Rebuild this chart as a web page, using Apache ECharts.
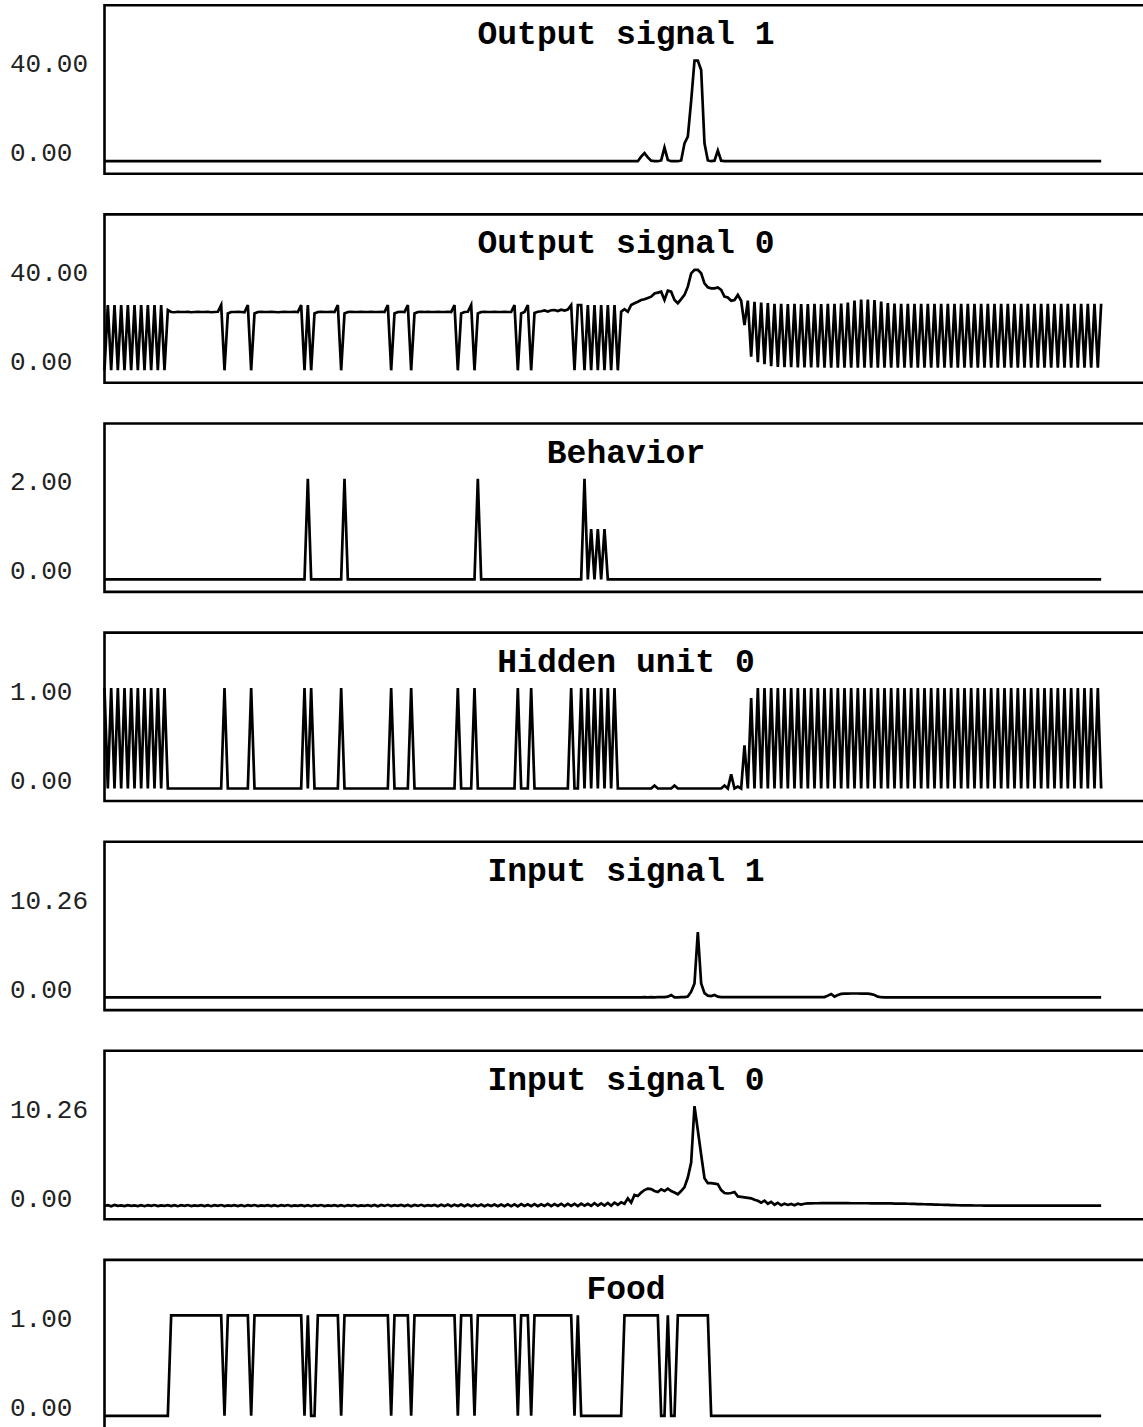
<!DOCTYPE html>
<html>
<head>
<meta charset="utf-8">
<script src="https://cdn.jsdelivr.net/npm/echarts/dist/echarts.min.js"></script>
<style>
html,body{margin:0;padding:0;background:#fff;}
#chart{width:1143px;height:1427px;}
</style>
</head>
<body>
<div id="chart"></div>
<script>
// ---------- DATA ----------
const panelTitles = ['Output signal 1', 'Output signal 0', 'Behavior', 'Hidden unit 0', 'Input signal 1', 'Input signal 0', 'Food'];
const tickLabelValues = [40, 40, 2, 1, 10.26, 10.26, 1];

const outputSignal1 = [
0,0,0,0,0,0,0,0,0,0, 0,0,0,0,0,0,0,0,0,0, 0,0,0,0,0,0,0,0,0,0, 0,0,0,0,0,0,0,0,0,0,
0,0,0,0,0,0,0,0,0,0, 0,0,0,0,0,0,0,0,0,0, 0,0,0,0,0,0,0,0,0,0, 0,0,0,0,0,0,0,0,0,0,
0,0,0,0,0,0,0,0,0,0, 0,0,0,0,0,0,0,0,0,0, 0,0,0,0,0,0,0,0,0,0, 0,0,0,0,0,0,0,0,0,0,
0,0,0,0,0,0,0,0,0,0, 0,0,0,0,0,0,0,0,0,0, 0,0,0,0,0,0,0,0,0,0, 0,0,0,0,0,0,0,0,0,0,
0,1.8,3.2,1.5,0.2,0,0,0.3,5.4,0.5,
0,0,0,0.3,7.1,9.8,24,40,40,36.3,
7.1,0.3,0,0.2,4.2,0.2,0,0,0,0,
0,0,0,0,0,0,0,0,0,0, 0,0,0,0,0,0,0,0,0,0, 0,0,0,0,0,0,0,0,0,0, 0,0,0,0,0,0,0,0,0,0,
0,0,0,0,0,0,0,0,0,0, 0,0,0,0,0,0,0,0,0,0, 0,0,0,0,0,0,0,0,0,0, 0,0,0,0,0,0,0,0,0,0,
0,0,0,0,0,0,0,0,0,0, 0,0,0,0,0,0,0,0,0,0, 0,0,0,0,0,0,0,0,0,0
];

const outputSignal0 = [
0,26,0,26,0,26,0,26,0,26,
0,26,0,26,0,26,0,26,0,24,
23.2,23.1,23.3,23.2,23.2,23.3,23.1,23.2,23.3,23.2,
23.2,23.3,23.1,23.2,23.3,26,0,22.6,23.2,23.2,
23.3,23.2,23.1,26,0,22.6,23.2,23.3,23.2,23.2,
23.3,23.2,23.1,23.2,23.3,23.2,23.2,23.3,23.2,26,
0,26,0,22.6,23.2,23.3,23.2,23.2,23.3,23.2,
26,0,22.6,23.2,23.3,23.2,23.2,23.3,23.2,23.2,
23.3,23.2,23.2,23.3,23.2,26,0,22.6,23.2,23.3,
23.2,26,0,22.6,23.2,23.3,23.2,23.3,23.2,23.2,
23.3,23.2,23.2,23.3,23.2,26,0,22.6,23.2,23.3,
26,0,22.6,23.2,23.3,23.2,23.2,23.3,23.2,23.2,
23.3,23.2,23.2,26,0,22.6,23.2,26,0,22.8,
23.3,23.5,23.8,23.4,23.9,24,23.6,24.1,23.8,24.2,
26,0,26,26,0,26,0,26,0,26,
0,26,0,26,0,23.3,24.3,23.3,26,26.7,
27.3,28,28.3,28.8,29.3,30.6,30.9,31.3,28,31.7,
31.3,28,26.7,28.3,30,33.3,38.6,40,40,38.6,
34.6,33,32.6,32.6,33,32,29.3,29,27.7,28,
30,27.7,18,27.7,5.4,27.3,3.2,27,2.4,26.8,
1.6,26.5,1.3,26.5,1.2,26.4,1.2,26.5,1.1,26.4,
1.1,26.4,1.1,26.5,1.1,26.4,1.0,26.5,1.0,26.5,
1.0,26.6,1.0,27,1.0,27.8,1.0,28.2,1.0,28.2,
1.0,28,1.0,27.4,1.0,26.8,1.0,26.6,1.0,26.5,
1.0,26.5,1.0,26.5,1.0,26.5,1.0,26.5,1.0,26.5,
1.0,26.5,1.0,26.5,1.0,26.5,1.0,26.5,1.0,26.5,
1.0,26.5,1.0,26.5,1.0,26.5,1.0,26.5,1.0,26.5,
1.0,26.5,1.0,26.5,1.0,26.5,1.0,26.5,1.0,26.5,
1.0,26.5,1.0,26.5,1.0,26.5,1.0,26.5,1.0,26.5,
1.0,26.5,1.0,26.5,1.0,26.5,1.0,26.5,1.0,26.5
];

const behavior = [
0,0,0,0,0,0,0,0,0,0, 0,0,0,0,0,0,0,0,0,0, 0,0,0,0,0,0,0,0,0,0, 0,0,0,0,0,0,0,0,0,0,
0,0,0,0,0,0,0,0,0,0, 0,0,0,0,0,0,0,0,0,0,
0,2,0,0,0,0,0,0,0,0,
0,0,2,0,0,0,0,0,0,0,
0,0,0,0,0,0,0,0,0,0, 0,0,0,0,0,0,0,0,0,0, 0,0,0,0,0,0,0,0,0,0,
0,0,2,0,0,0,0,0,0,0,
0,0,0,0,0,0,0,0,0,0, 0,0,0,0,0,0,0,0,0,0,
0,0,0,0,2,0,1,0,1,0,
1,0,0,0,0,0,0,0,0,0,
0,0,0,0,0,0,0,0,0,0, 0,0,0,0,0,0,0,0,0,0, 0,0,0,0,0,0,0,0,0,0, 0,0,0,0,0,0,0,0,0,0,
0,0,0,0,0,0,0,0,0,0, 0,0,0,0,0,0,0,0,0,0, 0,0,0,0,0,0,0,0,0,0, 0,0,0,0,0,0,0,0,0,0,
0,0,0,0,0,0,0,0,0,0, 0,0,0,0,0,0,0,0,0,0, 0,0,0,0,0,0,0,0,0,0, 0,0,0,0,0,0,0,0,0,0,
0,0,0,0,0,0,0,0,0,0, 0,0,0,0,0,0,0,0,0,0
];

const hiddenUnit0 = [
1,0,1,0,1,0,1,0,1,0,
1,0,1,0,1,0,1,0,1,0,
0,0,0,0,0,0,0,0,0,0,
0,0,0,0,0,0,1,0,0,0,
0,0,0,0,1,0,0,0,0,0,
0,0,0,0,0,0,0,0,0,0,
1,0,1,0,0,0,0,0,0,0,
0,1,0,0,0,0,0,0,0,0,
0,0,0,0,0,0,1,0,0,0,
0,0,1,0,0,0,0,0,0,0,
0,0,0,0,0,0,1,0,0,0,
0,1,0,0,0,0,0,0,0,0,
0,0,0,0,1,0,0,0,1,0,
0,0,0,0,0,0,0,0,0,0,
1,0,0,1,0,1,0,1,0,1,
0,1,0,1,0,0,0,0,0,0,
0,0,0,0,0,0.03,0,0,0,0,
0,0.03,0,0,0,0,0,0,0,0,
0,0,0,0,0,0,0.03,0,0.14,0,
0.02,0,0.43,0,0.9,0,1,0,1,0,
1,0,1,0,1,0,1,0,1,0, 1,0,1,0,1,0,1,0,1,0,
1,0,1,0,1,0,1,0,1,0, 1,0,1,0,1,0,1,0,1,0,
1,0,1,0,1,0,1,0,1,0, 1,0,1,0,1,0,1,0,1,0,
1,0,1,0,1,0,1,0,1,0, 1,0,1,0,1,0,1,0,1,0,
1,0,1,0,1,0,1,0,1,0, 1,0,1,0,1,0,1,0,1,0
];

const inputSignal1 = [
0.02,0.03,0.02,0.03,0.02,0.03,0.02,0.03,0.02,0.03, 0.02,0.03,0.02,0.03,0.02,0.03,0.02,0.03,0.02,0.03,
0.02,0.03,0.02,0.03,0.02,0.03,0.02,0.03,0.02,0.03, 0.02,0.03,0.02,0.03,0.02,0.03,0.02,0.03,0.02,0.03,
0.02,0.03,0.02,0.03,0.02,0.03,0.02,0.03,0.02,0.03, 0.02,0.03,0.02,0.03,0.02,0.03,0.02,0.03,0.02,0.03,
0.02,0.03,0.02,0.03,0.02,0.03,0.02,0.03,0.02,0.03, 0.02,0.03,0.02,0.03,0.02,0.03,0.02,0.03,0.02,0.03,
0.02,0.03,0.02,0.03,0.02,0.03,0.02,0.03,0.02,0.03, 0.02,0.03,0.02,0.03,0.02,0.03,0.02,0.03,0.02,0.03,
0.02,0.03,0.02,0.03,0.02,0.03,0.02,0.03,0.02,0.03, 0.02,0.03,0.02,0.03,0.02,0.03,0.02,0.03,0.02,0.03,
0.02,0.03,0.02,0.03,0.02,0.03,0.02,0.03,0.02,0.03, 0.02,0.03,0.02,0.03,0.02,0.03,0.02,0.03,0.02,0.03,
0.02,0.03,0.02,0.03,0.02,0.03,0.02,0.03,0.02,0.03, 0.02,0.03,0.02,0.03,0.02,0.03,0.02,0.03,0.02,0.03,
0.03,0.03,0.04,0.03,0.04,0.03,0.04,0.04,0.05,0.1,
0.27,0.02,0.03,0.04,0.05,0.1,0.6,1.45,6.7,1.45,
0.45,0.2,0.15,0.27,0.1,0.05,0.05,0.05,0.05,0.05,
0.05,0.05,0.05,0.05,0.05,0.05,0.05,0.05,0.05,0.05, 0.05,0.05,0.05,0.05,0.05,0.05,0.05,0.05,0.05,0.05,
0.05,0.05,0.05,0.05,0.05,0.05,0.05,0.2,0.37,0.1,
0.27,0.38,0.4,0.41,0.42,0.42,0.42,0.41,0.4,0.4,
0.35,0.27,0.1,0.04,0.03,0.03,0.03,0.03,0.03,0.03,
0.03,0.03,0.03,0.03,0.03,0.03,0.03,0.03,0.03,0.03, 0.03,0.03,0.03,0.03,0.03,0.03,0.03,0.03,0.03,0.03,
0.03,0.03,0.03,0.03,0.03,0.03,0.03,0.03,0.03,0.03, 0.03,0.03,0.03,0.03,0.03,0.03,0.03,0.03,0.03,0.03,
0.03,0.03,0.03,0.03,0.03,0.03,0.03,0.03,0.03,0.03, 0.03,0.03,0.03,0.03,0.03,0.03,0.03,0.03,0.03,0.03
];

const inputSignal0 = [
0.08,0.15,0.05,0.17,0.08,0.14,0.06,0.16,0.09,0.13, 0.07,0.16,0.05,0.15,0.08,0.17,0.06,0.14,0.09,0.15,
0.07,0.16,0.05,0.15,0.08,0.17,0.06,0.14,0.09,0.15, 0.07,0.16,0.05,0.15,0.08,0.17,0.06,0.14,0.09,0.15,
0.07,0.16,0.05,0.15,0.08,0.17,0.06,0.14,0.09,0.15, 0.07,0.16,0.05,0.15,0.08,0.17,0.06,0.14,0.09,0.15,
0.07,0.16,0.05,0.15,0.08,0.17,0.06,0.14,0.09,0.15, 0.07,0.16,0.05,0.15,0.08,0.17,0.06,0.14,0.09,0.15,
0.07,0.18,0.05,0.17,0.08,0.19,0.06,0.16,0.09,0.18, 0.07,0.18,0.05,0.17,0.08,0.19,0.06,0.16,0.09,0.18,
0.05,0.2,0.06,0.22,0.04,0.21,0.07,0.23,0.05,0.22, 0.05,0.2,0.06,0.22,0.04,0.21,0.07,0.23,0.05,0.22,
0.05,0.24,0.06,0.25,0.04,0.26,0.07,0.24,0.05,0.27, 0.05,0.25,0.08,0.28,0.06,0.26,0.08,0.3,0.06,0.28,
0.08,0.3,0.06,0.32,0.1,0.3,0.08,0.35,0.1,0.33,
0.12,0.38,0.1,0.42,0.2,0.45,0.3,0.85,0.41,1.2,
1.1,1.44,1.7,1.85,1.8,1.6,1.5,1.78,1.6,1.85,
1.6,1.45,1.27,1.6,2.0,2.98,4.5,10.26,7.8,5.3,
2.9,2.4,2.4,2.35,2.3,1.7,1.4,1.35,1.4,1.5,
1.05,1.0,0.95,0.9,0.85,0.7,0.6,0.4,0.62,0.3,
0.5,0.2,0.4,0.15,0.3,0.18,0.28,0.15,0.3,0.22,
0.3,0.33,0.34,0.35,0.35,0.36,0.36,0.36,0.36,0.36, 0.36,0.36,0.36,0.36,0.35,0.35,0.35,0.35,0.35,0.35,
0.34,0.34,0.34,0.34,0.33,0.33,0.33,0.32,0.32,0.32, 0.31,0.3,0.29,0.28,0.27,0.26,0.25,0.24,0.23,0.22,
0.21,0.2,0.19,0.18,0.17,0.16,0.15,0.14,0.14,0.13, 0.13,0.12,0.12,0.12,0.11,0.11,0.11,0.11,0.1,0.1,
0.1,0.1,0.1,0.1,0.1,0.1,0.1,0.1,0.1,0.1, 0.1,0.1,0.1,0.1,0.1,0.1,0.1,0.1,0.1,0.1,
0.1,0.1,0.1,0.1,0.1,0.1,0.1,0.1,0.1,0.1
];

const food = [
0,0,0,0,0,0,0,0,0,0, 0,0,0,0,0,0,0,0,0,0,
1,1,1,1,1,1,1,1,1,1,
1,1,1,1,1,1,0,1,1,1,
1,1,1,1,0,1,1,1,1,1,
1,1,1,1,1,1,1,1,1,1,
0,1,0,0,1,1,1,1,1,1,
1,0,1,1,1,1,1,1,1,1,
1,1,1,1,1,1,0,1,1,1,
1,1,0,1,1,1,1,1,1,1,
1,1,1,1,1,1,0,1,1,1,
1,0,1,1,1,1,1,1,1,1,
1,1,1,1,0,1,1,1,0,1,
1,1,1,1,1,1,1,1,1,1,
1,0,1,0,0,0,0,0,0,0,
0,0,0,0,0,0,1,1,1,1,
1,1,1,1,1,1,1,0,0,1,
0,0,1,1,1,1,1,1,1,1,
1,1,0,0,0,0,0,0,0,0,
0,0,0,0,0,0,0,0,0,0, 0,0,0,0,0,0,0,0,0,0, 0,0,0,0,0,0,0,0,0,0, 0,0,0,0,0,0,0,0,0,0,
0,0,0,0,0,0,0,0,0,0, 0,0,0,0,0,0,0,0,0,0, 0,0,0,0,0,0,0,0,0,0, 0,0,0,0,0,0,0,0,0,0,
0,0,0,0,0,0,0,0,0,0, 0,0,0,0,0,0,0,0,0,0, 0,0,0,0,0,0,0,0,0,0
];

const panelSeries = [outputSignal1, outputSignal0, behavior, hiddenUnit0, inputSignal1, inputSignal0, food];

// ---------- LAYOUT ----------
const LEFT = 104.5, TOP0 = 5.3, STEP = 209.1, HEIGHT = 168.4;
const X_MAX = 313, X_UNIT = 3.3333;
const LABEL_PX = 100.5, ZERO_FROM_BOTTOM = 12.5;
const MONO = "'Liberation Mono', 'Courier New', monospace";

const grids = [], xAxes = [], yAxes = [], series = [], titles = [];
panelTitles.forEach((t, k) => {
  const top = TOP0 + k * STEP;
  const L = tickLabelValues[k];
  grids.push({ left: LEFT, top: top, width: X_MAX * X_UNIT, height: HEIGHT,
    outerBoundsMode: 'none', containLabel: false,
    show: true, borderColor: '#000', borderWidth: 2.6, backgroundColor: 'transparent' });
  xAxes.push({ gridIndex: k, type: 'value', min: 0, max: X_MAX, show: false });
  yAxes.push({
    gridIndex: k, type: 'value',
    min: -L * ZERO_FROM_BOTTOM / LABEL_PX,
    max: L * (HEIGHT - ZERO_FROM_BOTTOM) / LABEL_PX,
    axisLine: { show: false }, axisTick: { show: false }, splitLine: { show: false },
    axisLabel: {
      customValues: [0, L],
      align: 'left', verticalAlign: 'middle', margin: LEFT - 10,
      fontFamily: MONO, fontSize: 26, color: '#222',
      formatter: v => (v === 0 ? '{z|0.00}' : '{t|' + L.toFixed(2) + '}'),
      rich: {
        z: { fontFamily: MONO, fontSize: 26, color: '#222', padding: [0, 0, 14, 0] },
        t: { fontFamily: MONO, fontSize: 26, color: '#222', padding: [9, 0, 0, 0] }
      }
    }
  });
  series.push({
    type: 'line', xAxisIndex: k, yAxisIndex: k,
    data: panelSeries[k].map((v, i) => [i, v]),
    symbol: 'none', showSymbol: false, silent: true, animation: false,
    lineStyle: { color: '#000', width: 2.7, join: 'miter', miterLimit: 10 }
  });
  titles.push({ text: t, left: 626, top: top + 14, textAlign: 'center', textVerticalAlign: 'top', padding: 0,
    textStyle: { fontFamily: MONO, fontWeight: 'bold', fontSize: 33, color: '#000' } });
});

const chart = echarts.init(document.getElementById('chart'), null, { renderer: 'svg' });
chart.setOption({
  animation: false,
  backgroundColor: '#fff',
  title: titles,
  grid: grids,
  xAxis: xAxes,
  yAxis: yAxes,
  series: series
});
</script>
</body>
</html>
